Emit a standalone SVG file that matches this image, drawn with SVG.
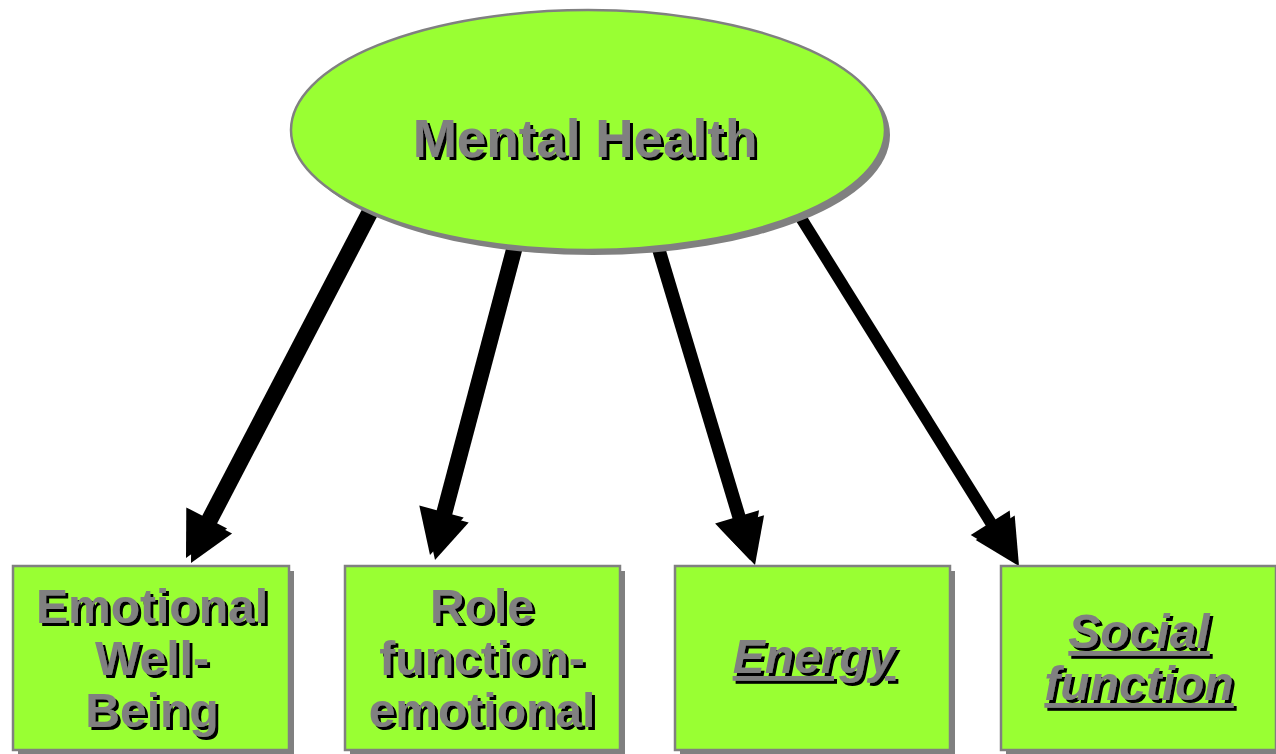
<svg xmlns="http://www.w3.org/2000/svg" xmlns:xlink="http://www.w3.org/1999/xlink" width="1276" height="754" viewBox="0 0 1276 754">
<style>
.box{fill:#99FF33;stroke:#808080;stroke-width:2.5}
.shadow{fill:#808080}
.lbl{font-family:"Liberation Sans",Arial,sans-serif;font-weight:bold;text-anchor:middle;fill:#808080;filter:url(#ts)}
.it{font-style:italic;text-decoration:underline}
.ln{stroke:#000;stroke-width:10;fill:none}
.hd{fill:#000}
.sh .ln{stroke:#808080}
.sh .hd{fill:#808080}
</style>
<defs>
<filter id="ts" x="-10%" y="-20%" width="130%" height="150%">
<feFlood flood-color="#000000" result="c"/>
<feComposite in="c" in2="SourceAlpha" operator="in" result="s"/>
<feOffset in="s" dx="3" dy="3" result="o"/>
<feMerge><feMergeNode in="o"/><feMergeNode in="SourceGraphic"/></feMerge>
</filter>
<g id="arrows">
<line class="ln" x1="372" y1="201" x2="202" y2="527"/>
<polygon class="hd" points="186,558 186.3,507.4 227.1,528.6"/>
<line class="ln" x1="514" y1="238" x2="439" y2="521"/>
<polygon class="hd" points="430,555 419.3,505.6 463.7,517.4"/>
<line class="ln" x1="653" y1="236" x2="740" y2="526"/>
<polygon class="hd" points="750,560 759.1,510.3 715.1,523.5"/>
<line class="ln" x1="792" y1="205" x2="995" y2="531"/>
<polygon class="hd" points="1014,561 1009.7,510.6 970.7,535"/>
</g>
</defs>
<g id="connectors">
<g class="sh" transform="translate(5,5)"><use xlink:href="#arrows"/></g>
<use xlink:href="#arrows"/>
</g>
<g id="mental-health">
<ellipse class="shadow" cx="593" cy="135" rx="297" ry="120"/>
<ellipse class="box" cx="588" cy="130" rx="297" ry="120"/>
<text class="lbl" x="585" y="157" font-size="53">Mental Health</text>
</g>
<g id="emotional-well-being">
<rect class="shadow" x="18" y="571" width="276" height="184"/>
<rect class="box" x="13" y="566" width="276" height="184"/>
<text class="lbl" font-size="48"><tspan x="152" y="623">Emotional</tspan><tspan x="152" y="675">Well-</tspan><tspan x="152" y="727">Being</tspan></text>
</g>
<g id="role-function-emotional">
<rect class="shadow" x="350" y="571" width="275" height="184"/>
<rect class="box" x="345" y="566" width="275" height="184"/>
<text class="lbl" font-size="48"><tspan x="482" y="623">Role</tspan><tspan x="482" y="675">function-</tspan><tspan x="482" y="727">emotional</tspan></text>
</g>
<g id="energy">
<rect class="shadow" x="680" y="571" width="275" height="184"/>
<rect class="box" x="675" y="566" width="275" height="184"/>
<text class="lbl it" x="814" y="673" font-size="48">Energy</text>
</g>
<g id="social-function">
<rect class="shadow" x="1006" y="571" width="275" height="184"/>
<rect class="box" x="1001" y="566" width="275" height="184"/>
<text class="lbl it" font-size="48"><tspan x="1139" y="648">Social</tspan><tspan x="1139" y="700">function</tspan></text>
</g>
</svg>
